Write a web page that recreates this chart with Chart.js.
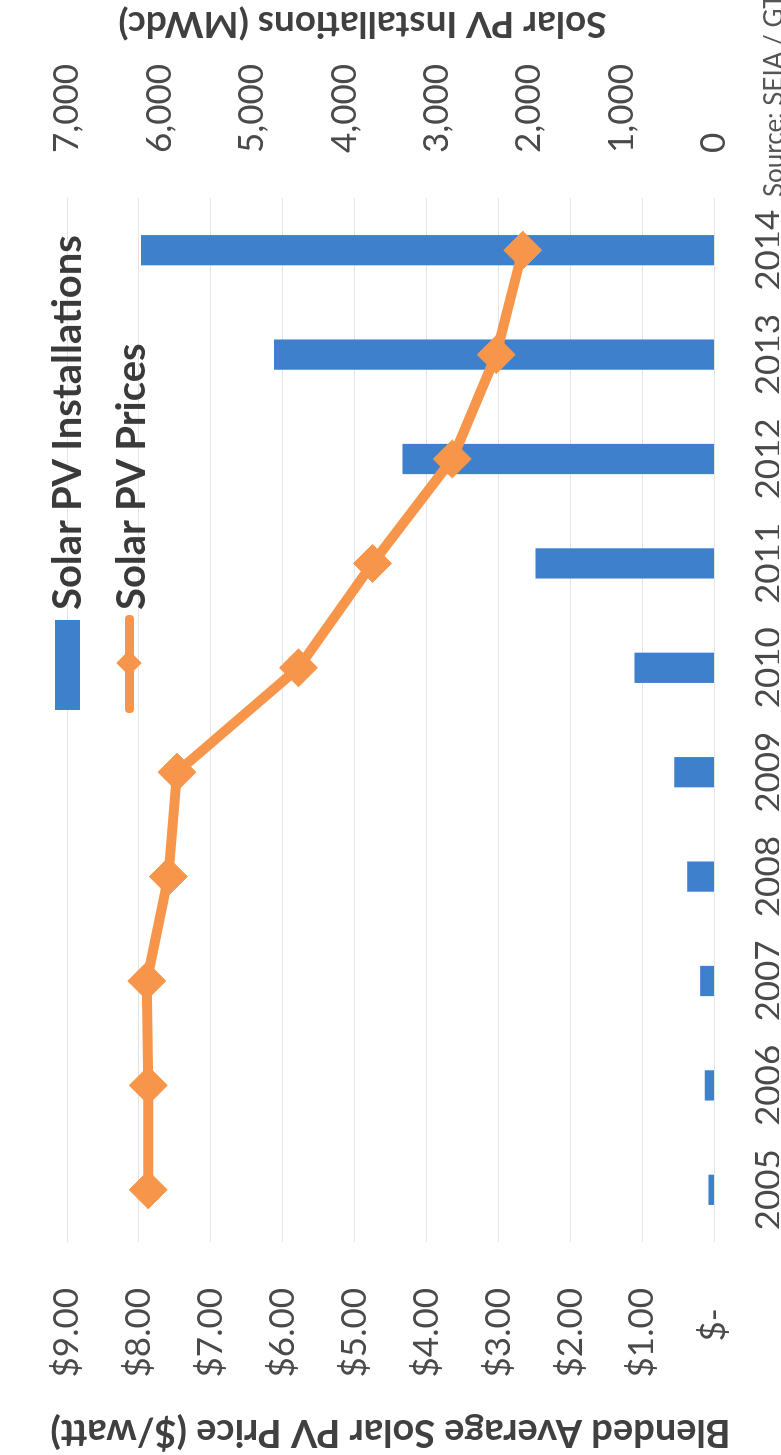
<!DOCTYPE html>
<html>
<head>
<meta charset="utf-8">
<script src="https://cdn.jsdelivr.net/npm/chart.js@4.4.1/dist/chart.umd.min.js"></script>
<style>
  html, body { margin: 0; padding: 0; width: 781px; height: 1455px; overflow: hidden; background: #fff; }
  /* the chart is laid out landscape, then turned a quarter turn like the photo */
  #page {
    position: absolute; left: 0; top: 0; width: 1455px; height: 781px; overflow: hidden;
    transform-origin: 0 0; transform: translate(0px, 1455px) rotate(-90deg);
    font-family: Lato, sans-serif; background: #fff;
  }
  #wrap { position: absolute; left: 0; top: 0; width: 1455px; height: 781px; }
  .key-bar { position: absolute; left: 745px; top: 55px; width: 90px; height: 25px; background: #3f80cc; }
  .key-line { position: absolute; left: 742px; top: 125px; width: 98px; height: 9px; background: #f7964a; border-radius: 4px; }
  .key-dot { position: absolute; left: 783px; top: 120px; width: 18px; height: 18px; background: #f7964a; transform: rotate(45deg); }
  .key-text { position: absolute; left: 845px; font-weight: bold; font-size: 40px; line-height: 40px; color: #3a3a3a; white-space: nowrap; }
  .source { position: absolute; left: 1258px; top: 760px; font-size: 26px; line-height: 26px; color: #555; white-space: nowrap; }
</style>
</head>
<body>
<div id="page">
  <div id="wrap"><canvas id="solarChart"></canvas></div>
  <div class="key-bar"></div>
  <div class="key-text" style="top:46px;">Solar PV Installations</div>
  <div class="key-line"></div>
  <div class="key-dot"></div>
  <div class="key-text" style="top:110px;">Solar PV Prices</div>
  <div class="source">Source: SEIA / GTM Research</div>
</div>
<script>
// data
const years = ['2005', '2006', '2007', '2008', '2009', '2010', '2011', '2012', '2013', '2014'];
const installations = [60, 100, 150, 290, 430, 860, 1930, 3370, 4760, 6200];
const prices = [7.87, 7.87, 7.89, 7.59, 7.47, 5.78, 4.75, 3.64, 3.03, 2.66];
const priceTickLabels = ['$-', '$1.00', '$2.00', '$3.00', '$4.00', '$5.00', '$6.00', '$7.00', '$8.00', '$9.00'];
const installTickLabels = ['0', '1,000', '2,000', '3,000', '4,000', '5,000', '6,000', '7,000'];

const priceTitle = 'Blended Average Solar PV Price ($/watt)';
const installTitle = 'Solar PV Installations (MWdc)';

const blue = '#3f80cc';
const orange = '#f7964a';
const tickFont = { family: 'Lato', size: 35 };

// right axis title reads bottom-to-top like the left one
const rightTitle = {
    id: 'rightTitle',
    afterDraw(chart) {
        const ctx = chart.ctx;
        const area = chart.chartArea;
        ctx.save();
        ctx.translate(chart.width - 24, (area.top + area.bottom) / 2 - 28);
        ctx.rotate(-Math.PI / 2);
        ctx.font = 'bold 37px Lato';
        ctx.fillStyle = '#404040';
        ctx.textAlign = 'center';
        ctx.textBaseline = 'middle';
        ctx.fillText(installTitle, 0, 0);
        ctx.restore();
    }
};

const ctx = document.getElementById('solarChart').getContext('2d');
new Chart(ctx, {
    type: 'bar',
    data: {
        labels: years,
        datasets: [{
            type: 'line',
            label: 'Solar PV Prices',
            data: prices,
            yAxisID: 'y',
            borderColor: orange,
            backgroundColor: orange,
            borderWidth: 10,
            tension: 0,
            pointStyle: 'rectRot',
            pointRadius: 19,
            pointBorderWidth: 1,
            pointBackgroundColor: orange,
            pointBorderColor: orange,
            order: 0
        }, {
            type: 'bar',
            label: 'Solar PV Installations',
            data: installations,
            yAxisID: 'y2',
            backgroundColor: blue,
            borderWidth: 0,
            barPercentage: 0.29,
            categoryPercentage: 1,
            order: 1
        }]
    },
    options: {
        responsive: true,
        maintainAspectRatio: false,
        animation: false,
        layout: { padding: { top: 24, left: 0, right: 0, bottom: 0 } },
        plugins: {
            legend: { display: false },
            tooltip: { enabled: false }
        },
        scales: {
            x: {
                grid: { display: false },
                border: { display: false },
                ticks: { font: tickFont, color: '#4a4a4a', padding: 26, maxRotation: 0, autoSkip: false },
                afterFit(scale) { scale.height = 65; }
            },
            y: {
                position: 'left',
                min: 0,
                max: 9,
                ticks: {
                    stepSize: 1,
                    font: tickFont,
                    color: '#4a4a4a',
                    padding: 46,
                    callback: function (value) {
                        const label = priceTickLabels[Math.round(value)];
                        return value === 0 ? label + '\u2007' : label;
                    }
                },
                grid: { color: '#e4e4e4', lineWidth: 1, drawTicks: false },
                border: { display: false },
                title: {
                    display: true,
                    text: priceTitle,
                    font: { family: 'Lato', size: 38, weight: 'bold' },
                    color: '#404040',
                    padding: { top: 0, bottom: 0 }
                },
                afterFit(scale) { scale.width = 213; }
            },
            y2: {
                position: 'right',
                min: 0,
                max: 7000,
                ticks: {
                    stepSize: 1000,
                    font: tickFont,
                    color: '#4a4a4a',
                    padding: 45,
                    callback: function (value) {
                        return installTickLabels[Math.round(value / 1000)];
                    }
                },
                grid: { display: false, drawTicks: false },
                border: { display: false },
                afterFit(scale) { scale.width = 198; }
            }
        }
    },
    plugins: [rightTitle]
});
</script>
</body>
</html>
